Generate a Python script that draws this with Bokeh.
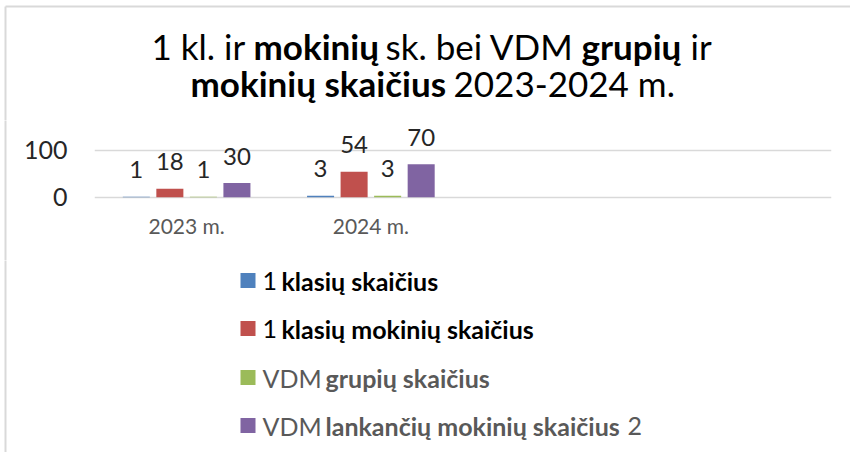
from bokeh.plotting import figure
from bokeh.layouts import column, row
from bokeh.models import Range1d, FixedTicker, ColumnDataSource
from bokeh.transform import dodge
from bokeh.core.properties import value
from bokeh.embed import file_html
from bokeh.resources import INLINE

# ---------------- data ----------------
categories = ["2023 m.", "2024 m."]
klasiu_sk = [1, 3]            # 1 klasių skaičius
klasiu_mokiniu_sk = [18, 54]  # 1 klasių mokinių skaičius
vdm_grupiu_sk = [1, 3]        # VDM grupių skaičius
vdm_mokiniu_sk = [30, 70]     # VDM lankančių mokinių skaičius 2
y_ticks = [0, 100]

series_names = ["1 klasių skaičius", "1 klasių mokinių skaičius",
                "VDM grupių skaičius", "VDM lankančių mokinių skaičius 2"]
series_colors = ["#4F81BD", "#C0504D", "#9BBB59", "#8064A2"]

title_line1 = [("1 kl. ir", False), ("mokinių", True), ("sk. bei VDM", False),
               ("grupių", True), ("ir", False)]
title_line2 = [("mokinių skaičius", True), ("2023-2024 m.", False)]

legend_runs = [
    [("1", False), ("klasių skaičius", True)],
    [("1", False), ("klasių mokinių skaičius", True)],
    [("VDM", False), ("grupių skaičius", True)],
    [("VDM", False), ("lankančių mokinių skaičius", True), ("2", False)],
]
legend_text_colors = ["#000000", "#000000", "#595959", "#595959"]

# ---------------- layout (page pixels) ----------------
W, H = 850, 452
TITLE_BOTTOM = 120
CHART_BOTTOM = 260
STRIP = 10                    # narrow strip left of the chart band (carries the border)
FL, FR, FB = 94, 831, 199     # plot frame edges
ZERO_Y, HUNDRED_Y = 196.7, 149.5
PPU = (ZERO_Y - HUNDRED_Y) / 100.0
n_slots = 4
FONT = "Lato"
BORDER_X, BORDER_Y = 5, 6
BORDER_COLOR = "#d9d9d9"
NO_SCROLL = {"overflow": "hidden", "scrollbar-width": "none"}


def blank_fig(x0, x1, y0, y1):
    f = figure(width=int(x1 - x0), height=int(y1 - y0), x_range=Range1d(x0, x1),
               y_range=Range1d(y1, y0), x_axis_type=None, y_axis_type=None,
               output_backend="svg", toolbar_location=None,
               min_border=0, min_border_left=0, min_border_right=0,
               min_border_top=0, min_border_bottom=0, frame_align=False)
    f.title.visible = False
    f.outline_line_color = None
    f.grid.visible = False
    f.background_fill_color = "white"
    f.border_fill_color = "white"
    return f


# ---------- title ----------
pt = blank_fig(0, W, 0, TITLE_BOTTOM)
pt.segment(x0=[BORDER_X, BORDER_X], y0=[BORDER_Y, BORDER_Y], x1=[W, BORDER_X], y1=[BORDER_Y, TITLE_BOTTOM + 1],
           line_color=BORDER_COLOR, line_width=2)
t1_x = [151, 253, 385, 581, 690]
t2_x = [190, 453]
runs = [(txt, b, x, 45) for (txt, b), x in zip(title_line1, t1_x)] + \
       [(txt, b, x, 82) for (txt, b), x in zip(title_line2, t2_x)]
for bold in (False, True):
    sel = [r for r in runs if r[1] == bold]
    pt.text(x=[r[2] for r in sel], y=[r[3] for r in sel], text=[r[0] for r in sel],
            text_font=value(FONT), text_font_size="35px",
            text_font_style="bold" if bold else "normal",
            text_color="#000000", text_baseline="alphabetic", text_align="left")

# ---------- border strip beside the chart ----------
ps = blank_fig(0, STRIP, TITLE_BOTTOM, CHART_BOTTOM)
ps.segment(x0=[BORDER_X], y0=[TITLE_BOTTOM - 1], x1=[BORDER_X], y1=[CHART_BOTTOM + 1],
           line_color=BORDER_COLOR, line_width=2)

# ---------- chart ----------
ch_h = CHART_BOTTOM - TITLE_BOTTOM
y_lo = -(FB - ZERO_Y) / PPU
y_hi = (ZERO_Y - TITLE_BOTTOM) / PPU
p = figure(width=W - STRIP, height=ch_h, x_range=Range1d(0, n_slots), y_range=Range1d(y_lo, y_hi),
           output_backend="svg", toolbar_location=None, frame_align=False,
           min_border_left=FL - STRIP, min_border_right=W - FR,
           min_border_top=0, min_border_bottom=CHART_BOTTOM - FB)
p.title.visible = False
p.outline_line_color = None
p.background_fill_color = "white"
p.border_fill_color = "white"

p.xgrid.grid_line_color = None
p.ygrid.grid_line_color = "#d9d9d9"
p.ygrid.grid_line_width = 1.5

p.yaxis.ticker = FixedTicker(ticks=y_ticks)
p.yaxis.axis_line_color = None
p.yaxis.major_tick_line_color = None
p.yaxis.minor_tick_line_color = None
p.yaxis.major_tick_out = 0
p.yaxis.major_tick_in = 0
p.yaxis.major_label_standoff = 27
p.yaxis.major_label_text_font = FONT
p.yaxis.major_label_text_font_size = "25px"
p.yaxis.major_label_text_color = "#262626"

xpos = [i + 0.5 for i in range(len(categories))]
p.xaxis.ticker = FixedTicker(ticks=xpos)
p.xaxis.major_label_overrides = {x: c for x, c in zip(xpos, categories)}
p.xaxis.axis_line_color = None
p.xaxis.major_tick_line_color = None
p.xaxis.minor_tick_line_color = None
p.xaxis.major_tick_out = 0
p.xaxis.major_tick_in = 0
p.xaxis.major_label_standoff = 13
p.xaxis.major_label_text_font = FONT
p.xaxis.major_label_text_font_size = "21px"
p.xaxis.major_label_text_color = "#595959"

values = [klasiu_sk, klasiu_mokiniu_sk, vdm_grupiu_sk, vdm_mokiniu_sk]
bar_w = 0.1467
step = 0.182
offsets = [(-1.5 + i) * step for i in range(4)]
for vals, col, off in zip(values, series_colors, offsets):
    src = ColumnDataSource(dict(x=xpos, top=vals, label=[str(v) for v in vals]))
    p.vbar(x=dodge("x", off), top="top", width=bar_w, source=src,
           fill_color=col, line_color=None)
    p.text(x=dodge("x", off), y="top", text="label", source=src,
           text_align="center", text_baseline="alphabetic", y_offset=-27,
           text_font=value(FONT), text_font_size="24px", text_color="#262626")

# ---------- legend ----------
pl = blank_fig(0, W, CHART_BOTTOM, H)
pl.segment(x0=[BORDER_X], y0=[CHART_BOTTOM - 1], x1=[BORDER_X], y1=[H],
           line_color=BORDER_COLOR, line_width=2)
leg_y = [280, 328, 377, 425]
leg_x = [[262, 281], [262, 281], [262, 325], [262, 325, 627]]
pl.rect(x=[247.5] * 4, y=leg_y, width=15, height=15, fill_color=series_colors, line_color=None)
for runs_i, yc, xs, tcol in zip(legend_runs, leg_y, leg_x, legend_text_colors):
    for (txt, bold), x in zip(runs_i, xs):
        pl.text(x=[x], y=[yc], text=[txt], text_font=value(FONT), text_font_size="25px",
                text_font_style="bold" if bold else "normal",
                text_color=tcol, text_baseline="middle", text_align="left")

middle = row(ps, p, spacing=0, styles=NO_SCROLL)
layout = column(pt, middle, pl, spacing=0, styles=NO_SCROLL)

open("out.html", "w").write(file_html(layout, INLINE))
